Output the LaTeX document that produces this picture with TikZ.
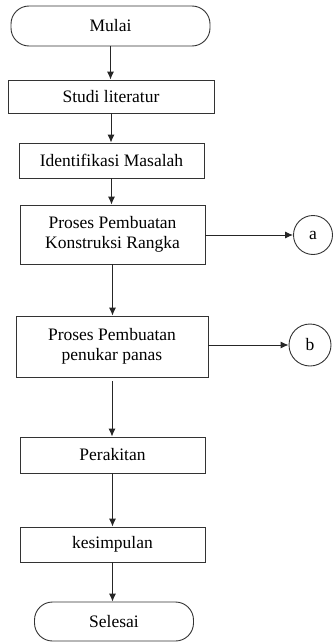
\documentclass[tikz,border=0pt]{standalone}
\usepackage{fontspec}
\setmainfont{Liberation Serif}
\usetikzlibrary{arrows.meta}
\begin{document}
\begin{tikzpicture}[x=1pt, y=-1pt,
    font=\fontsize{17.5}{20.5}\selectfont,
    every node/.style={draw=black!80, line width=0.9pt, inner sep=0pt, align=center},
    box/.style={rectangle},
    terminal/.style={rectangle, rounded corners=18pt},
    connector/.style={circle},
    flow/.style={draw=black!85, line width=0.9pt, -{Latex[length=8pt, width=7pt]}}]
        % Frame
        \useasboundingbox (0,0) rectangle (333,642);

        % Nodes
        \node[terminal, minimum width=199pt, minimum height=40pt] (mulai) at (110.5,26) {Mulai};
        \node[box, minimum width=206pt, minimum height=33pt] (studi) at (111,96.5) {Studi literatur};
        \node[box, minimum width=185pt, minimum height=35pt] (ident) at (111.5,160.5) {Identifikasi Masalah};
        \node[box, minimum width=185pt, minimum height=59pt] (rangka) at (112.5,234.5) {Proses Pembuatan\\Konstruksi Rangka};
        \node[connector, minimum size=39pt] (a) at (313,235) {a};
        \node[box, minimum width=192pt, minimum height=61pt] (panas) at (112,346.5) {Proses Pembuatan\\penukar panas};
        \node[connector, minimum size=42pt] (b) at (310,345) {b};
        \node[box, minimum width=185pt, minimum height=36pt] (rakit) at (112.5,455) {Perakitan};
        \node[box, minimum width=185pt, minimum height=35pt] (simpul) at (112.5,544.5) {kesimpulan};
        \node[terminal, minimum width=159pt, minimum height=39pt] (selesai) at (114,621.5) {Selesai};

        % Main flow
        \draw[flow] (mulai.south) -- (mulai.south |- studi.north);
        \draw[flow] (studi.south) -- (studi.south |- ident.north);
        \draw[flow] (ident.south) -- (ident.south |- rangka.north);
        \draw[flow] (rangka.south) -- (rangka.south |- panas.north);
        \draw[flow, shorten <=4pt] (panas.south) -- (panas.south |- rakit.north);
        \draw[flow] (rakit.south) -- (rakit.south |- simpul.north);
        \draw[flow] (simpul.south) -- (simpul.south |- selesai.north);

        % Side connectors
        \draw[flow] (rangka.east |- a) -- (a.west);
        \draw[flow] (panas.east |- b) -- (b.west);
\end{tikzpicture}
\end{document}
